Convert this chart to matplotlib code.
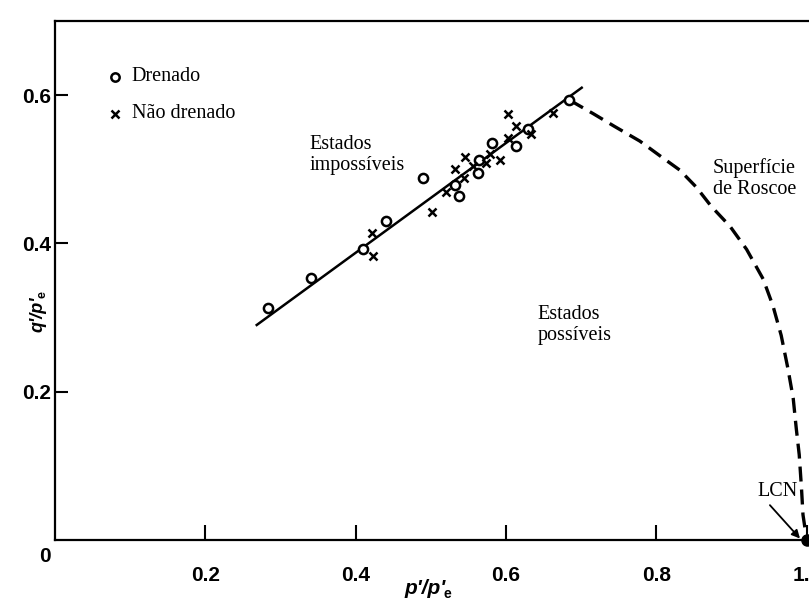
import matplotlib
matplotlib.use("Agg")
import matplotlib.pyplot as plt
from matplotlib.transforms import offset_copy

# ---- data ----
drained_p = [0.284, 0.341, 0.410, 0.440, 0.490, 0.532, 0.538, 0.564, 0.563, 0.581, 0.613, 0.629, 0.684]
drained_q = [0.313, 0.354, 0.393, 0.430, 0.488, 0.479, 0.464, 0.513, 0.495, 0.536, 0.532, 0.554, 0.594]

undrained_p = [0.422, 0.423, 0.501, 0.520, 0.532, 0.545, 0.544, 0.556, 0.573, 0.579, 0.592, 0.603, 0.603, 0.613, 0.633, 0.662]
undrained_q = [0.414, 0.383, 0.442, 0.469, 0.500, 0.517, 0.488, 0.504, 0.509, 0.520, 0.513, 0.542, 0.574, 0.558, 0.547, 0.576]

csl_p = [0.267, 0.702]
csl_q = [0.289, 0.611]

roscoe_p = [0.685, 0.716, 0.744, 0.778, 0.805, 0.831, 0.853, 0.873, 0.898, 0.920, 0.942,
            0.955, 0.966, 0.975, 0.982, 0.986, 0.990, 0.993, 0.995, 1.0]
roscoe_q = [0.593, 0.575, 0.558, 0.538, 0.518, 0.499, 0.476, 0.450, 0.423, 0.392, 0.352,
            0.316, 0.276, 0.231, 0.191, 0.151, 0.115, 0.070, 0.034, 0.0]

ncl_p = [1.0]
ncl_q = [0.0]

xticks = [0.2, 0.4, 0.6, 0.8, 1.0]
xticklabels = ["0.2", "0.4", "0.6", "0.8", "1.0"]
yticks = [0.2, 0.4, 0.6]
yticklabels = ["0.2", "0.4", "0.6"]

serif = ['Liberation Serif', 'DejaVu Serif']
tickfont = ['Liberation Sans Narrow', 'Liberation Sans']

fig = plt.figure(figsize=(8.09, 6.03), dpi=100)
ax = fig.add_axes([55 / 809, 1 - 540 / 603, 1 - 55 / 809, (540 - 21) / 603])
ax.set_xlim(0, 1.003)
ax.set_ylim(0, 0.70)

# critical state line
ax.plot(csl_p, csl_q, color='black', lw=1.8, solid_capstyle='butt', zorder=2)
# Roscoe surface
ax.plot(roscoe_p, roscoe_q, color='black', lw=2.4, dashes=(4.5, 2.4), zorder=2,
        clip_on=False)
# points
ax.plot(drained_p, drained_q, linestyle='none', marker='o', ms=6.6, mfc='white',
        mec='black', mew=1.8, zorder=3)
ax.plot(undrained_p, undrained_q, linestyle='none', marker='x', ms=6.0,
        mec='black', mew=1.8, zorder=3)
ax.plot(ncl_p, ncl_q, linestyle='none', marker='o', ms=8, color='black',
        clip_on=False, zorder=4)

# legend (drawn by hand like the original)
ax.plot([0.080], [0.625], linestyle='none', marker='o', ms=6, mfc='white',
        mec='black', mew=1.8)
ax.plot([0.080], [0.575], linestyle='none', marker='x', ms=5.5, mec='black', mew=1.8)
ax.text(0.102, 0.625, "Drenado", family=serif, fontsize=14.5, va='center', ha='left')
ax.text(0.102, 0.575, "Não drenado", family=serif, fontsize=14.5, va='center', ha='left')

ax.text(0.339, 0.519, "Estados\nimpossíveis", family=serif, fontsize=14.5,
        va='center', ha='left', linespacing=1.15)
ax.text(0.642, 0.290, "Estados\npossíveis", family=serif, fontsize=14.5,
        va='center', ha='left', linespacing=1.15)
ax.text(0.875, 0.488, "Superfície\nde Roscoe", family=serif, fontsize=14.5,
        va='center', ha='left', linespacing=1.15)
ax.text(0.935, 0.066, "LCN", family=serif, fontsize=14.5, va='center', ha='left')
ax.annotate("", xy=(0.991, 0.002), xytext=(0.951, 0.047),
            arrowprops=dict(arrowstyle='-|>', color='black', lw=1.3,
                            mutation_scale=12, shrinkA=0, shrinkB=0))

# axes styling
for s in ['left', 'bottom', 'top']:
    ax.spines[s].set_linewidth(1.6)
ax.spines['right'].set_visible(False)

ax.set_xticks(xticks)
ax.set_xticklabels(xticklabels, family=tickfont, fontweight='bold', fontsize=15)
ax.set_yticks(yticks)
ax.set_yticklabels(yticklabels, family=tickfont, fontweight='bold', fontsize=15)
ax.tick_params(axis='x', direction='in', length=11, width=1.5, pad=19)
ax.tick_params(axis='y', direction='in', length=9, width=1.5, pad=3)

fig.text(45 / 809, 1 - 556 / 603, "0", family=tickfont, fontweight='bold',
         fontsize=15, ha='center', va='center')

# axis labels p'/p'e and q'/p'e with subscript e
labfont = ['Liberation Sans', 'DejaVu Sans']
fx, fy = 446 / 809, 1 - 588 / 603
fig.text(fx, fy, "p'/p'", family=labfont, fontsize=15,
         fontweight='bold', fontstyle='italic', ha='right', va='center')
fig.text(fx, fy, "e", family=labfont, fontsize=10,
         fontweight='bold', ha='left', va='center',
         transform=offset_copy(fig.transFigure, fig=fig, x=-1.5, y=-4, units='points'))

gx, gy = 38 / 809, 1 - 296 / 603
fig.text(gx, gy, "q'/p'", family=labfont, fontsize=13,
         fontweight='bold', fontstyle='italic', ha='center', va='top',
         rotation=90)
fig.text(gx, gy, "e", family=labfont, fontsize=9,
         fontweight='bold', ha='center', va='bottom', rotation=90,
         transform=offset_copy(fig.transFigure, fig=fig, x=3.5, y=-1.5, units='points'))

fig.savefig("out.png", dpi=100)
